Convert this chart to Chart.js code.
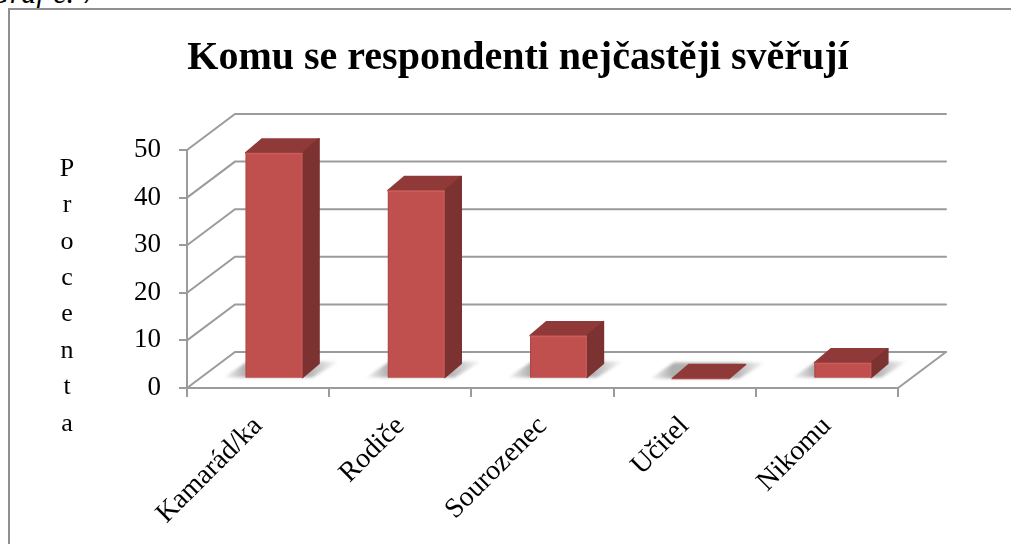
<!DOCTYPE html>
<html lang="cs"><head><meta charset="utf-8">
<script src="https://cdn.jsdelivr.net/npm/chart.js@4"></script>
<style>
html,body{margin:0;padding:0;background:#fff;overflow:hidden}
#wrap{position:relative;width:1011px;height:544px;overflow:hidden}
#cap{position:absolute;left:-12px;top:-24px;font:italic 30px "Liberation Serif",serif;color:#000;white-space:nowrap;word-spacing:1px}
#frame{position:absolute;left:8px;top:8px;right:-5px;bottom:-5px;border:2px solid #8f8f8f}
canvas{position:absolute;left:0;top:0}
</style></head><body>
<div id="wrap">
<div id="cap">Graf č. 7</div>
<div id="frame"></div>
<canvas id="c" width="1011" height="544"></canvas>
</div>
<script>
const chartTitle = "Komu se respondenti nejčastěji svěřují";
const axisTitle = "Procenta";
const categories = ["Kamarád/ka", "Rodiče", "Sourozenec", "Učitel", "Nikomu"];
const values = [47.4, 39.5, 9, 0, 3.3];
const yMin = 0, yMax = 50, yStep = 10;

const FONT = '"Liberation Serif", serif';
const GRID = '#9b9b9b';
const WALL = {dx: 48, dy: -36};   // depth of the 3D box
const FRONT = {dx: 16, dy: -9.5}; // where the bars stand on the floor
const BAR = {dx: 16.5, dy: -14};  // depth of each bar

function poly(ctx, pts){
  ctx.beginPath();
  pts.forEach((p,i)=> i ? ctx.lineTo(p[0],p[1]) : ctx.moveTo(p[0],p[1]));
  ctx.closePath();
}
const threeD = {
  id: 'threeD',
  afterLayout(chart){
    // centre the title on the plot, not on the space left of the y axis labels
    if (chart.titleBlock){ chart.titleBlock.left += 9; chart.titleBlock.right += 9; }
  },
  beforeDatasetsDraw(chart){
    const {ctx, scales:{x,y}} = chart;
    const L = x.left, R = x.right;
    ctx.save();
    ctx.strokeStyle = GRID; ctx.lineWidth = 2; ctx.lineCap = 'round';
    y.ticks.forEach(t=>{
      const py = y.getPixelForValue(t.value);
      ctx.beginPath();
      ctx.moveTo(L, py);
      ctx.lineTo(L+WALL.dx, py+WALL.dy);
      ctx.lineTo(R+WALL.dx, py+WALL.dy);
      ctx.stroke();
    });
    const py0 = y.getPixelForValue(0);
    ctx.beginPath();
    ctx.moveTo(R, py0); ctx.lineTo(R+WALL.dx, py0+WALL.dy); ctx.stroke();
    // soft floor shadows
    chart.getDatasetMeta(0).data.forEach(b=>{
      const l = b.x - b.width/2 + FRONT.dx, r = b.x + b.width/2 + FRONT.dx;
      const by = b.base + FRONT.dy;
      const g = ctx.createLinearGradient(l-24, 0, r+38, 0);
      g.addColorStop(0,'rgba(110,110,110,0)');
      g.addColorStop(0.2,'rgba(110,110,110,.55)');
      g.addColorStop(0.72,'rgba(110,110,110,.55)');
      g.addColorStop(1,'rgba(110,110,110,0)');
      ctx.save();
      ctx.filter = 'blur(1.5px)';
      ctx.fillStyle = g;
      poly(ctx, [[l-22,by],[r+10,by],[r+36,by-16],[l+2,by-16]]);
      ctx.fill();
      ctx.restore();
    });
    // bars are drawn by the library, shifted back onto the floor
    ctx.restore();
    ctx.save();
    ctx.translate(FRONT.dx, FRONT.dy);
  },
  afterDatasetsDraw(chart){
    const {ctx} = chart;
    chart.getDatasetMeta(0).data.forEach(b=>{
      const l = b.x - b.width/2, r = b.x + b.width/2, t = b.y, base = b.base;
      ctx.lineJoin = 'round'; ctx.lineWidth = 1.5;
      // top face
      ctx.fillStyle = ctx.strokeStyle = '#8f3a38';
      poly(ctx, [[l,t],[r,t],[r+BAR.dx,t+BAR.dy],[l+BAR.dx,t+BAR.dy]]);
      ctx.fill(); ctx.stroke();
      // side face
      if (base - t > 0.5){
        ctx.fillStyle = ctx.strokeStyle = '#7b3230';
        poly(ctx, [[r,t],[r+BAR.dx,t+BAR.dy],[r+BAR.dx,base+BAR.dy],[r,base]]);
        ctx.fill(); ctx.stroke();
        // lit edges of the front face
        const g = ctx.createLinearGradient(l,0,r,0);
        g.addColorStop(0,'#a84644'); g.addColorStop(0.03,'#bf504d');
        g.addColorStop(0.97,'#bf504d'); g.addColorStop(1,'#cf5f5b');
        ctx.fillStyle = g;
        ctx.fillRect(l,t,r-l,base-t);
        ctx.fillStyle = '#cc5c58';
        ctx.fillRect(l,t,r-l,1.5);
      } else {
        ctx.strokeStyle = '#b04a47'; ctx.lineWidth = 1.2;
        ctx.beginPath(); ctx.moveTo(l,t); ctx.lineTo(r,t); ctx.stroke();
      }
    });
    ctx.restore();
    // stacked vertical axis title
    ctx.save();
    ctx.fillStyle = '#000';
    ctx.font = '26px ' + FONT;
    ctx.textAlign = 'center'; ctx.textBaseline = 'middle';
    const top = 169, step = 36.4;
    [...axisTitle].forEach((ch,i)=> ctx.fillText(ch, 67, top + i*step));
    ctx.restore();
  }
};

new Chart(document.getElementById('c'), {
  type: 'bar',
  data: { labels: categories, datasets: [{ data: values, backgroundColor: '#bf504d', borderWidth: 0,
           barPercentage: 0.4, categoryPercentage: 1 }] },
  plugins: [threeD],
  options: {
    responsive: false, animation: false,
    layout: { padding: { left: 120, right: 113, top: 0, bottom: 0 } },
    plugins: {
      legend: { display: false }, tooltip: { enabled: false },
      title: { display: true, text: chartTitle, color: '#000',
               font: { family: FONT, size: 40, weight: 'bold', lineHeight: 1.2 },
               padding: { top: 35, bottom: 67 } }
    },
    scales: {
      x: {
        afterFit: s => { s.height = 156; },
        grid: { color: GRID, lineWidth: 2, drawOnChartArea: false, drawTicks: true, tickLength: 9 },
        border: { color: GRID, width: 2 },
        ticks: { color: '#000', font: { family: FONT, size: 28 }, minRotation: 45, maxRotation: 45, padding: 13, autoSkip: false }
      },
      y: {
        min: yMin, max: yMax,
        afterFit: s => { s.width = 67; },
        grid: { color: GRID, lineWidth: 2, drawOnChartArea: false, drawTicks: true, tickLength: 8 },
        border: { color: GRID, width: 2 },
        ticks: { stepSize: yStep, color: '#000', font: { family: FONT, size: 27 }, padding: 18 }
      }
    }
  }
});
</script>
</body></html>
